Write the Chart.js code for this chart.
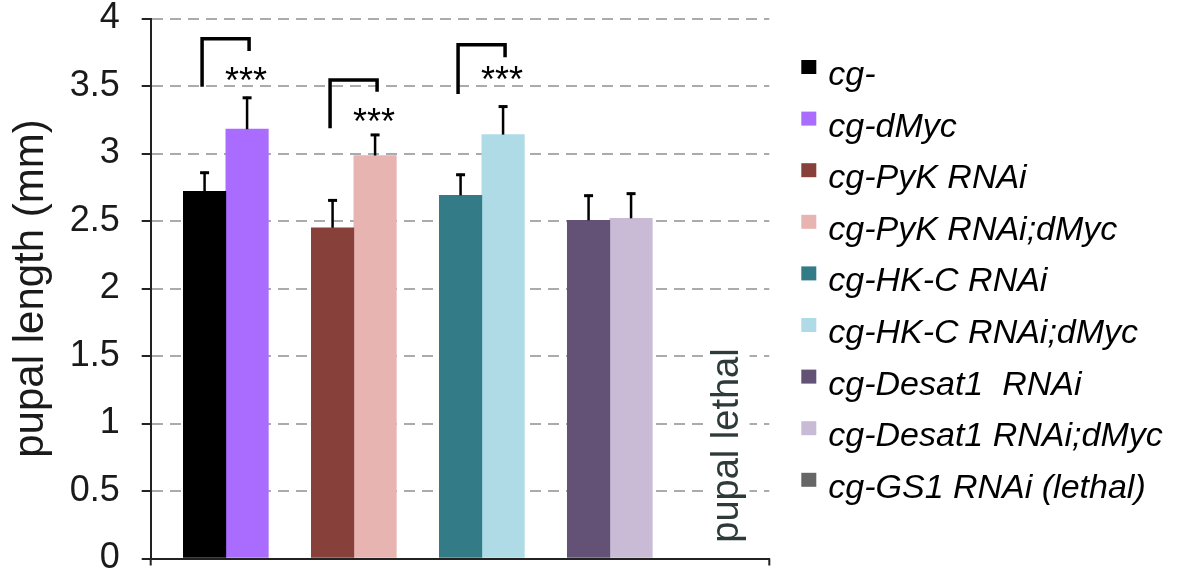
<!DOCTYPE html>
<html>
<head>
<meta charset="utf-8">
<script src="https://cdn.jsdelivr.net/npm/chart.js@4.4.0/dist/chart.umd.min.js"></script>
<style>
  html, body { margin: 0; padding: 0; background: #ffffff; }
  #wrap { width: 1182px; height: 577px; position: relative; }
</style>
</head>
<body>
<div id="wrap"><canvas id="chart" width="1182" height="577"></canvas></div>
<script>
// Genotype groups along the x axis (group 5, cg-GS1 RNAi, has no bars: pupal lethal)
const groupPositions = [0, 1, 2, 3];

// Pupal length (mm): genotype without dMyc, then with dMyc
const baseSeries = [2.72, 2.45, 2.69, 2.505];
const baseErrors = [0.145, 0.21, 0.16, 0.19];
const mycSeries  = [3.18, 2.985, 3.14, 2.52];
const mycErrors  = [0.24, 0.16, 0.215, 0.19];

const baseColors = ['#000000', '#87413A', '#337B87', '#635275'];
const mycColors  = ['#AA6CFE', '#E8B4B2', '#AEDBE6', '#C9BBD6'];

const legendLabels = [
  'cg-', 'cg-dMyc', 'cg-PyK RNAi', 'cg-PyK RNAi;dMyc', 'cg-HK-C RNAi',
  'cg-HK-C RNAi;dMyc', 'cg-Desat1  RNAi', 'cg-Desat1 RNAi;dMyc', 'cg-GS1 RNAi (lethal)'
];
const legendColors = [
  '#000000', '#AA6CFE', '#87413A', '#E8B4B2', '#337B87',
  '#AEDBE6', '#635275', '#C9BBD6', '#666666'
];

const yTickStep = 0.5;
const yMin = 0, yMax = 4;
const yTitle = 'pupal length (mm)';

// Significance brackets (group index, arm ends and bar top in mm) and star heights
const bracketGroups   = [0, 1, 2];
const bracketTop      = [3.85, 3.545, 3.805];
const bracketLeftEnd  = [3.495, 3.187, 3.441];
const bracketRightEnd = [3.76, 3.458, 3.713];
const starLevel       = [3.60, 3.30, 3.61];
const starText = '***';

// Annotation for the lethal genotype
const lethalText = 'pupal lethal';
const lethalPosition = 3.92;
const lethalLevel = 0.837;

const FONT = "'Liberation Sans', Arial, Helvetica, sans-serif";

const errorBarPlugin = {
  id: 'errorBars',
  afterDatasetsDraw(chart) {
    const ctx = chart.ctx;
    const yScale = chart.scales.y;
    chart.data.datasets.forEach((ds, di) => {
      const meta = chart.getDatasetMeta(di);
      meta.data.forEach((bar, i) => {
        const v = ds.data[i].y;
        const top = yScale.getPixelForValue(v + ds.errors[i]);
        ctx.save();
        ctx.strokeStyle = '#000';
        ctx.lineWidth = 2.5;
        ctx.beginPath();
        ctx.moveTo(bar.x, bar.y);
        ctx.lineTo(bar.x, top);
        ctx.stroke();
        ctx.lineWidth = 3;
        ctx.beginPath();
        ctx.moveTo(bar.x - 4.5, top + 1);
        ctx.lineTo(bar.x + 4.5, top + 1);
        ctx.stroke();
        ctx.restore();
      });
    });
  }
};

const annotationPlugin = {
  id: 'annotations',
  afterDatasetsDraw(chart) {
    const ctx = chart.ctx;
    const xScale = chart.scales.x, yScale = chart.scales.y;
    const left = chart.getDatasetMeta(0).data;
    const right = chart.getDatasetMeta(1).data;

    // brackets and stars
    bracketGroups.forEach((g, k) => {
      const xl = left[g].x - 2.5;
      const xr = right[g].x + 2;
      const yt = yScale.getPixelForValue(bracketTop[k]);
      ctx.save();
      ctx.strokeStyle = '#000';
      ctx.lineWidth = 3.5;
      ctx.lineCap = 'butt';
      ctx.lineJoin = 'miter';
      ctx.beginPath();
      ctx.moveTo(xl, yScale.getPixelForValue(bracketLeftEnd[k]));
      ctx.lineTo(xl, yt);
      ctx.lineTo(xr, yt);
      ctx.lineTo(xr, yScale.getPixelForValue(bracketRightEnd[k]));
      ctx.stroke();
      ctx.fillStyle = '#000';
      ctx.font = '36px ' + FONT;
      ctx.textAlign = 'center';
      ctx.textBaseline = 'alphabetic';
      ctx.fillText(starText, right[g].x - 1, yScale.getPixelForValue(starLevel[k]) + 0.58 * 36);
      ctx.restore();
    });

    // pupal lethal label in a white text box over the grid
    const cx = xScale.getPixelForValue(lethalPosition);
    const cy = yScale.getPixelForValue(lethalLevel);
    ctx.save();
    ctx.font = '38px ' + FONT;
    const w = ctx.measureText(lethalText).width;
    ctx.fillStyle = '#ffffff';
    ctx.fillRect(cx - 24, cy - w / 2 - 8, 46, w + 16);
    ctx.translate(cx, cy);
    ctx.rotate(-Math.PI / 2);
    ctx.fillStyle = '#2E3A3A';
    ctx.textAlign = 'center';
    ctx.textBaseline = 'middle';
    ctx.fillText(lethalText, 0, 0);
    ctx.restore();
  },
  afterDraw(chart) {
    const ctx = chart.ctx;
    const area = chart.chartArea;
    // end ticks of the x axis
    ctx.save();
    ctx.strokeStyle = '#222';
    ctx.lineWidth = 2;
    ctx.beginPath();
    ctx.moveTo(area.left, area.bottom);
    ctx.lineTo(area.left, area.bottom + 7);
    ctx.moveTo(area.right, area.bottom);
    ctx.lineTo(area.right, area.bottom + 7);
    ctx.stroke();
    ctx.restore();

    // legend
    const bx = area.right + 32;
    const y0 = 60, step = 51.6;
    ctx.save();
    ctx.font = 'italic 34px ' + FONT;
    ctx.textAlign = 'left';
    ctx.textBaseline = 'alphabetic';
    legendLabels.forEach((label, i) => {
      const y = y0 + i * step;
      ctx.fillStyle = legendColors[i];
      ctx.fillRect(bx, y, 15, 14);
      ctx.fillStyle = '#000';
      ctx.fillText(label, bx + 27, y + 25);
    });
    ctx.restore();
  }
};

const chart = new Chart(document.getElementById('chart'), {
  type: 'bar',
  data: {
    datasets: [
      {
        label: 'without dMyc',
        data: groupPositions.map((x, i) => ({ x, y: baseSeries[i] })),
        backgroundColor: baseColors,
        errors: baseErrors
      },
      {
        label: 'with dMyc',
        data: groupPositions.map((x, i) => ({ x, y: mycSeries[i] })),
        backgroundColor: mycColors,
        errors: mycErrors
      }
    ]
  },
  options: {
    responsive: false,
    animation: false,
    devicePixelRatio: 1,
    layout: { padding: { top: 18.5, right: 412.7, bottom: 0, left: 0 } },
    datasets: { bar: { barThickness: 42.5, borderWidth: 0 } },
    plugins: { legend: { display: false }, tooltip: { enabled: false } },
    scales: {
      x: {
        type: 'linear',
        offset: false,
        min: -0.587,
        max: 4.246,
        ticks: { display: false },
        grid: { display: false, drawTicks: false, offset: false },
        border: { display: true, color: '#222', width: 2 },
        afterFit(scale) {
          scale.height = 18.5;
          scale.paddingLeft = 0; scale.paddingRight = 0;
        }
      },
      y: {
        min: yMin,
        max: yMax,
        ticks: {
          stepSize: yTickStep,
          color: '#1a1a1a',
          padding: 22,
          font: { family: FONT, size: 36, lineHeight: 1 },
          callback: (v) => String(v)
        },
        grid: {
          color: '#ABABAB',
          lineWidth: 2,
          drawTicks: true,
          tickLength: 9,
          tickColor: '#222',
          tickWidth: 2,
          tickBorderDash: []
        },
        border: { display: true, color: '#222', width: 2, dash: [11, 7] },
        title: {
          display: true,
          text: yTitle,
          color: '#1a1a1a',
          padding: { top: 6, bottom: 0 },
          font: { family: FONT, size: 42, lineHeight: 1.2 }
        },
        afterFit(scale) {
          scale.width = 150.7;
          scale.paddingTop = 0; scale.paddingBottom = 0;
        }
      }
    }
  },
  plugins: [errorBarPlugin, annotationPlugin]
});
</script>
</body>
</html>
